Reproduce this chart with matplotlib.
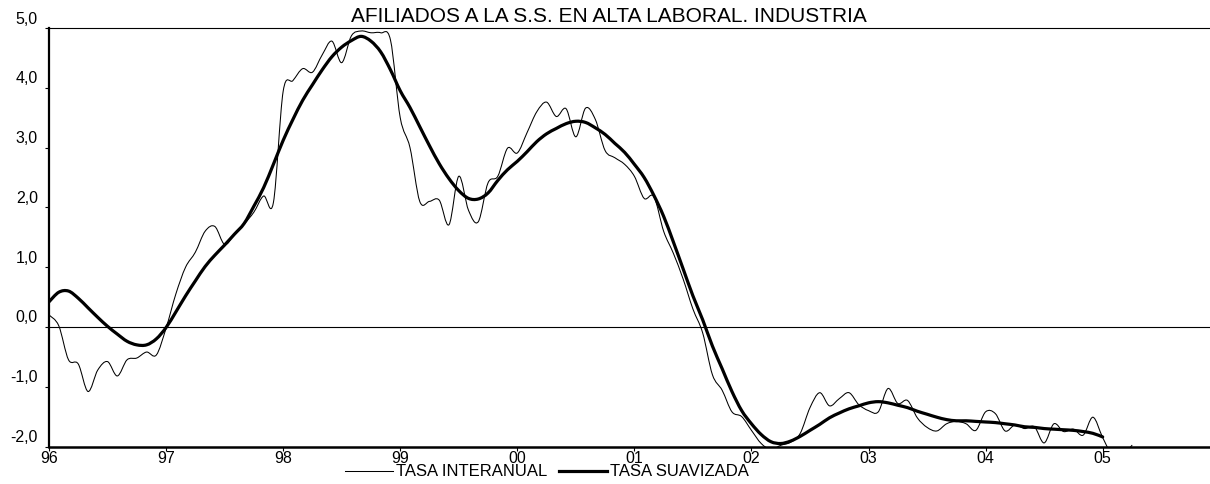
import matplotlib
matplotlib.use("Agg")
import matplotlib.pyplot as plt
from matplotlib.path import Path
from matplotlib.patches import PathPatch
from matplotlib.lines import Line2D
from matplotlib.transforms import ScaledTranslation

plt.rcParams['font.family'] = ['Liberation Sans', 'DejaVu Sans']

title = "AFILIADOS A LA S.S. EN ALTA LABORAL. INDUSTRIA"
series_names = ["TASA INTERANUAL", "TASA SUAVIZADA"]

# monthly values, starting January 1996
tasa_interanual = [
    0.20, 0.02, -0.55, -0.62, -1.08, -0.72, -0.58, -0.82, -0.55, -0.52, -0.42, -0.47,   # 96
    -0.02, 0.55, 1.00, 1.25, 1.60, 1.68, 1.38, 1.55, 1.72, 1.92, 2.19, 2.08,           # 97
    3.94, 4.12, 4.32, 4.26, 4.55, 4.78, 4.42, 4.87, 4.95, 4.92, 4.92, 4.80,            # 98
    3.50, 3.00, 2.10, 2.10, 2.12, 1.71, 2.52, 1.95, 1.76, 2.41, 2.52, 2.99,            # 99
    2.91, 3.25, 3.60, 3.76, 3.52, 3.65, 3.18, 3.66, 3.47, 2.95, 2.83, 2.72,            # 00
    2.52, 2.15, 2.18, 1.60, 1.23, 0.80, 0.30, -0.10, -0.80, -1.06, -1.42, -1.50,       # 01
    -1.73, -1.95, -2.05, -1.98, -1.93, -1.78, -1.35, -1.10, -1.32, -1.20, -1.10, -1.30,  # 02
    -1.40, -1.42, -1.03, -1.28, -1.23, -1.52, -1.68, -1.74, -1.62, -1.58, -1.62, -1.73,  # 03
    -1.42, -1.45, -1.74, -1.64, -1.70, -1.67, -1.94, -1.62, -1.75, -1.71, -1.81, -1.51,  # 04
    -1.85, -2.15, -2.15, -1.98,                                                        # 05
]

tasa_suavizada = [
    0.42, 0.58, 0.60, 0.48, 0.32, 0.16, 0.01, -0.12, -0.24, -0.30, -0.30, -0.20,
    -0.01, 0.25, 0.52, 0.77, 1.01, 1.20, 1.37, 1.55, 1.73, 2.02, 2.33, 2.72,
    3.12, 3.47, 3.79, 4.05, 4.30, 4.52, 4.68, 4.79, 4.86, 4.78, 4.60, 4.30,
    3.95, 3.67, 3.35, 3.03, 2.73, 2.48, 2.28, 2.15, 2.14, 2.24, 2.45, 2.63,
    2.77, 2.93, 3.10, 3.23, 3.32, 3.40, 3.44, 3.42, 3.33, 3.22, 3.07, 2.92,
    2.72, 2.50, 2.20, 1.85, 1.42, 0.97, 0.52, 0.12, -0.32, -0.70, -1.08, -1.40,
    -1.62, -1.80, -1.92, -1.95, -1.91, -1.83, -1.73, -1.63, -1.52, -1.44, -1.37, -1.32,
    -1.27, -1.25, -1.27, -1.31, -1.35, -1.41, -1.46, -1.51, -1.55, -1.57, -1.57, -1.58,
    -1.59, -1.60, -1.62, -1.64, -1.67, -1.68, -1.70, -1.71, -1.72, -1.73, -1.75, -1.78,
    -1.84,
]

year_labels = ["96", "97", "98", "99", "00", "01", "02", "03", "04", "05"]
y_values = [-2, -1, 0, 1, 2, 3, 4, 5]
y_labels = ["-2,0", "-1,0", "0,0", "1,0", "2,0", "3,0", "4,0", "5,0"]


def smooth_path(values):
    """Catmull-Rom curve through the monthly points (drawn by matplotlib Path)."""
    pts = [(float(i), float(v)) for i, v in enumerate(values)]
    n = len(pts)
    verts = [pts[0]]
    codes = [Path.MOVETO]
    for i in range(n - 1):
        p0 = pts[i - 1] if i > 0 else pts[i]
        p1 = pts[i]
        p2 = pts[i + 1]
        p3 = pts[i + 2] if i + 2 < n else pts[i + 1]
        c1 = (p1[0] + (p2[0] - p0[0]) / 6.0, p1[1] + (p2[1] - p0[1]) / 6.0)
        c2 = (p2[0] - (p3[0] - p1[0]) / 6.0, p2[1] - (p3[1] - p1[1]) / 6.0)
        verts += [c1, c2, p2]
        codes += [Path.CURVE4, Path.CURVE4, Path.CURVE4]
    return Path(verts, codes)


fig = plt.figure(figsize=(12.10, 4.84), dpi=100)
ax = fig.add_axes([49 / 1210, 1 - 446.5 / 484, 1 - 49 / 1210, (446.5 - 28) / 484])

thin = PathPatch(smooth_path(tasa_interanual), fill=False, edgecolor='black',
                 lw=0.75, joinstyle='round', capstyle='round')
thick = PathPatch(smooth_path(tasa_suavizada), fill=False, edgecolor='black',
                  lw=2.3, joinstyle='round', capstyle='round')
ax.add_patch(thin)
ax.add_patch(thick)

ax.axhline(0, color='black', lw=0.8)

ax.set_xlim(0, 119)
ax.set_ylim(-2, 5)

ax.set_xticks([12 * i for i in range(len(year_labels))])
ax.set_xticklabels(year_labels)
ax.set_yticks(y_values)
ax.set_yticklabels(y_labels)

ax.spines['right'].set_visible(False)
ax.spines['top'].set_linewidth(0.8)
ax.spines['left'].set_linewidth(1.6)
ax.spines['bottom'].set_linewidth(1.8)

ax.tick_params(axis='x', direction='out', length=3, width=0.8, pad=0.5, labelsize=11.5)
ax.tick_params(axis='y', direction='out', length=3, width=0.8, pad=5, labelsize=11.5)

offset = ScaledTranslation(0, 10.5 / 100, fig.dpi_scale_trans)
for lab in ax.get_yticklabels():
    lab.set_transform(lab.get_transform() + offset)

fig.text(609 / 1210, 1 - 17 / 484, title, ha='center', va='center', fontsize=15)

handles = [Line2D([], [], color='black', lw=0.75),
           Line2D([], [], color='black', lw=2.3)]
fig.legend(handles, series_names, loc='center left',
           bbox_to_anchor=(345 / 1210, 1 - 472 / 484), ncol=2, frameon=False,
           fontsize=12, handlelength=2.9, handletextpad=0.15, columnspacing=0.7,
           borderpad=0, borderaxespad=0)

fig.savefig("out.png", dpi=100)
